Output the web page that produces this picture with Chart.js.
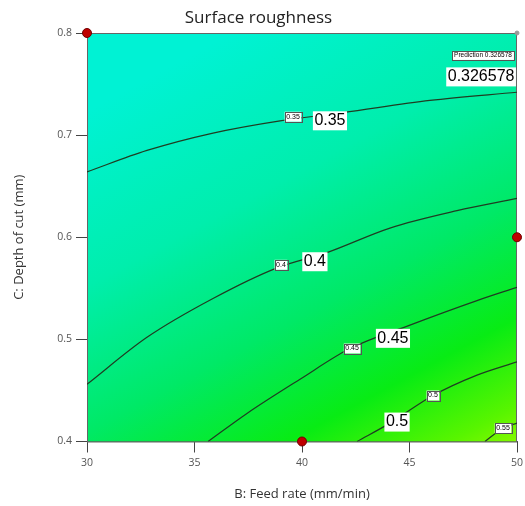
<!DOCTYPE html>
<html>
<head>
<meta charset="utf-8">
<script src="https://cdn.jsdelivr.net/npm/chart.js@4/dist/chart.umd.min.js"></script>
<style>
  html, body { margin: 0; padding: 0; background: #fff; }
  #wrap { width: 525px; height: 506px; }
</style>
</head>
<body>
<div id="wrap"><canvas id="contourChart"></canvas></div>
<script>
// contour levels and the traced points of each line (B: feed rate, C: depth of cut)
const levels = ["0.35", "0.4", "0.45", "0.5", "0.55"];
const line035 = [[30, 0.664], [32.79, 0.685], [35.86, 0.702], [38.98, 0.714], [41.91, 0.722], [45.95, 0.734], [50, 0.742]];
const line040 = [[30, 0.456], [32.79, 0.502], [35.86, 0.540], [38.84, 0.570], [41.16, 0.585], [44.09, 0.609], [47.21, 0.626], [50, 0.638]];
const line045 = [[35.63, 0.4], [37.44, 0.4275], [39.91, 0.461], [42.23, 0.491], [45.02, 0.514], [48.14, 0.538], [50, 0.551]];
const line050 = [[42.56, 0.4], [44.09, 0.418], [46.09, 0.445], [48.14, 0.465], [50, 0.478]];
const line055 = [[48.51, 0.4], [49.35, 0.413], [50, 0.418]];
const contourLines = [line035, line040, line045, line050, line055];

// design points shown in red
const designB = [30, 50, 40];
const designC = [0.8, 0.6, 0.4];

// prediction flag
const predictionValue = "0.326578";
const predictionPoint = [50, 0.8];

const xTicks = [30, 35, 40, 45, 50];
const yTicks = [0.4, 0.5, 0.6, 0.7, 0.8];

// where the level labels sit (data units)
const smallLabels = [
  { text: "0.35", x: 39.58, y: 0.719 },
  { text: "0.4", x: 39.02, y: 0.574 },
  { text: "0.45", x: 42.33, y: 0.492 },
  { text: "0.5", x: 46.09, y: 0.446 },
  { text: "0.55", x: 49.35, y: 0.414 },
];
const bigLabels = [
  { text: "0.35", x: 41.3, y: 0.715 },
  { text: "0.4", x: 40.6, y: 0.577 },
  { text: "0.45", x: 44.23, y: 0.502 },
  { text: "0.5", x: 44.42, y: 0.42 },
];

let toPoints = (arr) => arr.map((p) => ({ x: p[0], y: p[1] }));

let datasets = contourLines.map((pts, i) => ({
  label: levels[i],
  data: toPoints(pts),
  showLine: true,
  borderColor: "#1f3d22",
  borderWidth: 1.2,
  pointRadius: 0,
  cubicInterpolationMode: "monotone",
  fill: false,
}));

datasets.push({
  label: "Design points",
  data: designB.map((b, i) => ({ x: b, y: designC[i] })),
  pointRadius: 4.5,
  pointBackgroundColor: "#c00000",
  pointBorderColor: "#700000",
  pointBorderWidth: 1,
  showLine: false,
  clip: false,
});

datasets.push({
  label: "Prediction",
  data: [{ x: predictionPoint[0], y: predictionPoint[1] }],
  pointRadius: 2,
  pointBackgroundColor: "#999",
  pointBorderColor: "#999",
  showLine: false,
  clip: false,
});

// colour field behind the lines + frame
const backgroundPlugin = {
  id: "surfaceBg",
  beforeDatasetsDraw(chart) {
    let { ctx, chartArea: a } = chart;
    ctx.save();
    let g = ctx.createLinearGradient(a.left + 190, a.top - 25, a.right + 5, a.bottom + 20);
    g.addColorStop(0, "#00f2d4");
    g.addColorStop(0.3, "#00eeac");
    g.addColorStop(0.55, "#00e966");
    g.addColorStop(0.75, "#08ec14");
    g.addColorStop(0.9, "#58f500");
    g.addColorStop(1, "#a0fb00");
    ctx.fillStyle = g;
    ctx.fillRect(a.left, a.top, a.right - a.left, a.bottom - a.top);
    ctx.strokeStyle = "#666";
    ctx.lineWidth = 1;
    ctx.strokeRect(a.left + 0.5, a.top + 0.5, a.right - a.left - 1, a.bottom - a.top);
    ctx.restore();
  },
};

function drawBox(ctx, text, cx, cy, font, pad, border) {
  ctx.font = font;
  let w = ctx.measureText(text).width;
  let h = parseInt(font.match(/(\d+)px/)[1], 10);
  ctx.fillStyle = "#fff";
  ctx.fillRect(cx - w / 2 - pad, cy - h / 2 - pad + 1, w + pad * 2, h + pad * 2);
  if (border) {
    ctx.strokeStyle = "#555";
    ctx.lineWidth = 1;
    ctx.strokeRect(Math.round(cx - w / 2 - pad) + 0.5, Math.round(cy - h / 2 - pad + 1) + 0.5, Math.round(w + pad * 2), Math.round(h + pad * 2));
  }
  ctx.fillStyle = "#000";
  ctx.textAlign = "center";
  ctx.textBaseline = "middle";
  ctx.fillText(text, cx, cy + 1);
}

const labelPlugin = {
  id: "levelLabels",
  afterDatasetsDraw(chart) {
    let { ctx, scales } = chart;
    ctx.save();
    smallLabels.forEach((l) => {
      drawBox(ctx, l.text, scales.x.getPixelForValue(l.x), scales.y.getPixelForValue(l.y), "7px 'Liberation Sans'", 1.5, true);
    });
    bigLabels.forEach((l) => {
      drawBox(ctx, l.text, scales.x.getPixelForValue(l.x), scales.y.getPixelForValue(l.y), "16px 'Liberation Sans'", 1.5, false);
    });
    drawBox(ctx, "Prediction " + predictionValue, scales.x.getPixelForValue(48.42), scales.y.getPixelForValue(0.779), "6.5px 'Liberation Sans'", 2, true);
    drawBox(ctx, predictionValue, scales.x.getPixelForValue(48.33), scales.y.getPixelForValue(0.758), "16px 'Liberation Sans'", 1.5, false);
    ctx.restore();
  },
};

let ctx = document.getElementById("contourChart").getContext("2d");
new Chart(ctx, {
  type: "scatter",
  data: { datasets: datasets },
  options: {
    responsive: true,
    maintainAspectRatio: false,
    animation: false,
    layout: { padding: { left: 0, right: 8, top: 0, bottom: 0 } },
    plugins: {
      legend: { display: false },
      tooltip: { enabled: false },
      title: {
        display: true,
        text: "Surface roughness",
        color: "#222",
        font: { family: "'Open Sans'", size: 17, weight: "normal" },
        padding: { top: 8, bottom: 4.6 },
      },
    },
    scales: {
      x: {
        type: "linear",
        min: 30,
        max: 50,
        afterBuildTicks: (s) => { s.ticks = xTicks.map((v) => ({ value: v })); },
        afterFit: (s) => { s.height = 64.5; s.paddingRight = 0; },
        grid: { drawOnChartArea: false, drawTicks: true, tickLength: 11, color: "#444" },
        border: { display: true, color: "#555" },
        ticks: { color: "#555", font: { family: "'Open Sans'", size: 10.5 }, padding: 4 },
        title: {
          display: true,
          text: "B: Feed rate (mm/min)",
          color: "#333",
          font: { family: "'Open Sans'", size: 13 },
          padding: { top: 12 },
        },
      },
      y: {
        type: "linear",
        min: 0.4,
        max: 0.8,
        afterBuildTicks: (s) => { s.ticks = yTicks.map((v) => ({ value: v })); },
        afterFit: (s) => { s.width = 87; },
        grid: { drawOnChartArea: false, drawTicks: true, tickLength: 11, color: "#444" },
        border: { display: true, color: "#555" },
        ticks: { color: "#555", font: { family: "'Open Sans'", size: 10.5 }, padding: 4, callback: (v) => v.toFixed(1) },
        title: {
          display: true,
          text: "C: Depth of cut (mm)",
          color: "#333",
          font: { family: "'Open Sans'", size: 13 },
          padding: { top: 11, bottom: 0 },
        },
      },
    },
  },
  plugins: [backgroundPlugin, labelPlugin],
});
</script>
</body>
</html>
